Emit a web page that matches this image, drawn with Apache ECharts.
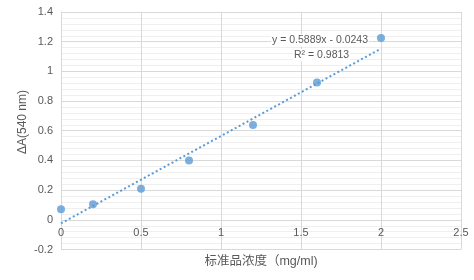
<!DOCTYPE html>
<html><head><meta charset="utf-8">
<script src="https://cdn.jsdelivr.net/npm/echarts@6/dist/echarts.min.js"></script>
<style>html,body{margin:0;padding:0;background:#fff}#c{width:474px;height:280px}</style>
</head><body><div id="c"></div>
<script>
const concentration = [0, 0.2, 0.5, 0.8, 1.2, 1.6, 2.0];
const deltaA = [0.072, 0.105, 0.21, 0.40, 0.638, 0.925, 1.225];
const slope = 0.5889;
const intercept = -0.0243;
const trendX = [0, 2.0];
const eqText = 'y = 0.5889x - 0.0243';
const r2Text = 'R² = 0.9813';
const yName = 'ΔA(540 nm)';
const xName = '标准品浓度（mg/ml)';

const font = '"Liberation Sans", "Noto Sans CJK SC", sans-serif';
const chart = echarts.init(document.getElementById('c'), null, {renderer: 'canvas'});
const pts = concentration.map((x, i) => [x, deltaA[i]]);
const trend = trendX.map(x => [x, slope * x + intercept]);
chart.setOption({
  animation: false,
  textStyle: {fontFamily: font},
  grid: {left: 61, right: 13, top: 12, bottom: 30.5, containLabel: false, outerBoundsMode: 'none'},
  xAxis: {
    type: 'value', min: 0, max: 2.5, interval: 0.5,
    offset: -29.7,
    name: xName, nameLocation: 'middle', nameGap: 35,
    nameTextStyle: {color: '#595959', fontSize: 12.5, fontFamily: font},
    axisLine: {show: true, onZero: false, lineStyle: {color: '#d9d9d9'}},
    axisTick: {show: false},
    axisLabel: {color: '#595959', fontSize: 11, margin: 8},
    splitLine: {show: true, lineStyle: {color: '#d9d9d9'}}
  },
  yAxis: {
    type: 'value', min: -0.2, max: 1.4, interval: 0.2,
    axisLine: {show: true, onZero: false, lineStyle: {color: '#d9d9d9'}},
    axisTick: {show: false},
    axisLabel: {color: '#595959', fontSize: 11, margin: 8},
    splitLine: {show: true, lineStyle: {color: '#d9d9d9'}},
    minorTick: {show: false, splitNumber: 5},
    minorSplitLine: {show: true, lineStyle: {color: '#efefef'}}
  },
  series: [
    {type: 'line', data: trend, showSymbol: false, symbol: 'none',
     lineStyle: {color: '#5B9BD5', width: 2, type: [2, 2.5]}, z: 2},
    {type: 'scatter', data: pts, symbol: 'circle', symbolSize: 8,
     itemStyle: {color: '#5B9BD5'}, z: 3}
  ],
  graphic: [
    {type: 'text', x: 23, y: 122, rotation: Math.PI / 2, z: 10,
     style: {text: yName, fill: '#595959', font: '12px ' + font, align: 'center', verticalAlign: 'middle'}},
    {type: 'text', left: 271, top: 34, z: 10, style: {text: eqText, fill: '#595959', font: '10.5px ' + font, backgroundColor: '#fff', padding: [1, 1]}},
    {type: 'text', left: 293, top: 49, z: 10, style: {text: r2Text, fill: '#595959', font: '10.5px ' + font, backgroundColor: '#fff', padding: [1, 1]}}
  ]
});
</script></body></html>
